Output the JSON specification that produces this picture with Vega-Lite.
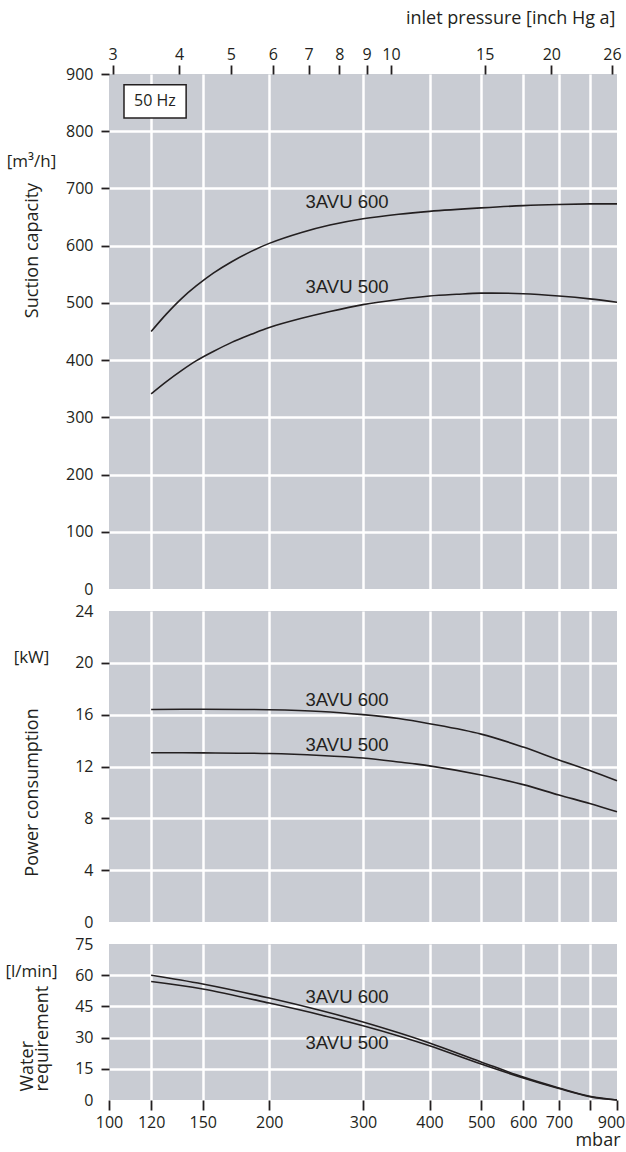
{
  "$schema": "https://vega.github.io/schema/vega-lite/v6.json",
  "background": "white",
  "padding": {"left": 4, "top": 9, "right": 5, "bottom": 5},
  "config": {
    "view": {"fill": "#c9ccd3", "stroke": null},
    "concat": {"spacing": 6},
    "axis": {
      "labelFont": "Open Sans", "labelFontSize": 16, "labelColor": "#231f20",
      "titleFont": "Open Sans", "titleFontSize": 18, "titleFontWeight": "normal", "titleColor": "#231f20",
      "tickColor": "#231f20", "tickWidth": 1.8, "domain": false,
      "gridColor": "white", "gridWidth": 2.5, "gridOpacity": 1
    }
  },
  "datasets": {
    "capacity": [
      {"model": "3AVU 600", "mbar": 120, "value": 450}, {"model": "3AVU 600", "mbar": 128, "value": 480},
      {"model": "3AVU 600", "mbar": 137, "value": 508}, {"model": "3AVU 600", "mbar": 146, "value": 530},
      {"model": "3AVU 600", "mbar": 157, "value": 552}, {"model": "3AVU 600", "mbar": 170, "value": 572},
      {"model": "3AVU 600", "mbar": 185, "value": 590}, {"model": "3AVU 600", "mbar": 200, "value": 604},
      {"model": "3AVU 600", "mbar": 230, "value": 623}, {"model": "3AVU 600", "mbar": 260, "value": 636},
      {"model": "3AVU 600", "mbar": 300, "value": 647}, {"model": "3AVU 600", "mbar": 350, "value": 655},
      {"model": "3AVU 600", "mbar": 400, "value": 660}, {"model": "3AVU 600", "mbar": 500, "value": 666},
      {"model": "3AVU 600", "mbar": 600, "value": 670}, {"model": "3AVU 600", "mbar": 700, "value": 672},
      {"model": "3AVU 600", "mbar": 800, "value": 673}, {"model": "3AVU 600", "mbar": 900, "value": 673},
      {"model": "3AVU 500", "mbar": 120, "value": 341}, {"model": "3AVU 500", "mbar": 128, "value": 362},
      {"model": "3AVU 500", "mbar": 137, "value": 382}, {"model": "3AVU 500", "mbar": 146, "value": 399},
      {"model": "3AVU 500", "mbar": 157, "value": 415}, {"model": "3AVU 500", "mbar": 170, "value": 431},
      {"model": "3AVU 500", "mbar": 185, "value": 445}, {"model": "3AVU 500", "mbar": 200, "value": 457},
      {"model": "3AVU 500", "mbar": 230, "value": 473}, {"model": "3AVU 500", "mbar": 260, "value": 485},
      {"model": "3AVU 500", "mbar": 300, "value": 497}, {"model": "3AVU 500", "mbar": 350, "value": 506},
      {"model": "3AVU 500", "mbar": 400, "value": 512}, {"model": "3AVU 500", "mbar": 450, "value": 515},
      {"model": "3AVU 500", "mbar": 500, "value": 517}, {"model": "3AVU 500", "mbar": 600, "value": 516},
      {"model": "3AVU 500", "mbar": 700, "value": 512}, {"model": "3AVU 500", "mbar": 800, "value": 507},
      {"model": "3AVU 500", "mbar": 900, "value": 501}
    ],
    "power": [
      {"model": "3AVU 600", "mbar": 120, "value": 16.4}, {"model": "3AVU 600", "mbar": 150, "value": 16.42},
      {"model": "3AVU 600", "mbar": 200, "value": 16.38}, {"model": "3AVU 600", "mbar": 250, "value": 16.25},
      {"model": "3AVU 600", "mbar": 300, "value": 16.0}, {"model": "3AVU 600", "mbar": 350, "value": 15.7},
      {"model": "3AVU 600", "mbar": 400, "value": 15.3}, {"model": "3AVU 600", "mbar": 500, "value": 14.5},
      {"model": "3AVU 600", "mbar": 600, "value": 13.5}, {"model": "3AVU 600", "mbar": 700, "value": 12.5},
      {"model": "3AVU 600", "mbar": 800, "value": 11.7}, {"model": "3AVU 600", "mbar": 900, "value": 10.9},
      {"model": "3AVU 500", "mbar": 120, "value": 13.06}, {"model": "3AVU 500", "mbar": 150, "value": 13.05},
      {"model": "3AVU 500", "mbar": 200, "value": 13.0}, {"model": "3AVU 500", "mbar": 250, "value": 12.85},
      {"model": "3AVU 500", "mbar": 300, "value": 12.65}, {"model": "3AVU 500", "mbar": 350, "value": 12.35},
      {"model": "3AVU 500", "mbar": 400, "value": 12.05}, {"model": "3AVU 500", "mbar": 500, "value": 11.35},
      {"model": "3AVU 500", "mbar": 600, "value": 10.6}, {"model": "3AVU 500", "mbar": 700, "value": 9.8},
      {"model": "3AVU 500", "mbar": 800, "value": 9.15}, {"model": "3AVU 500", "mbar": 900, "value": 8.5}
    ],
    "water": [
      {"model": "3AVU 600", "mbar": 120, "value": 60}, {"model": "3AVU 600", "mbar": 150, "value": 55.8},
      {"model": "3AVU 600", "mbar": 200, "value": 49}, {"model": "3AVU 600", "mbar": 250, "value": 43},
      {"model": "3AVU 600", "mbar": 300, "value": 37.5}, {"model": "3AVU 600", "mbar": 350, "value": 32.3},
      {"model": "3AVU 600", "mbar": 400, "value": 27.4}, {"model": "3AVU 600", "mbar": 500, "value": 18.3},
      {"model": "3AVU 600", "mbar": 600, "value": 11}, {"model": "3AVU 600", "mbar": 700, "value": 5.8},
      {"model": "3AVU 600", "mbar": 800, "value": 1.8}, {"model": "3AVU 600", "mbar": 900, "value": 0},
      {"model": "3AVU 500", "mbar": 120, "value": 57}, {"model": "3AVU 500", "mbar": 150, "value": 53.4},
      {"model": "3AVU 500", "mbar": 200, "value": 46.6}, {"model": "3AVU 500", "mbar": 250, "value": 40.9},
      {"model": "3AVU 500", "mbar": 300, "value": 35.7}, {"model": "3AVU 500", "mbar": 350, "value": 30.8},
      {"model": "3AVU 500", "mbar": 400, "value": 26.1}, {"model": "3AVU 500", "mbar": 500, "value": 17.3},
      {"model": "3AVU 500", "mbar": 600, "value": 10.6}, {"model": "3AVU 500", "mbar": 700, "value": 5.5},
      {"model": "3AVU 500", "mbar": 800, "value": 1.6}, {"model": "3AVU 500", "mbar": 900, "value": 0}
    ],
    "labels": [
      {"panel": "capacity", "label": "3AVU 600", "mbar": 234, "value": 676},
      {"panel": "capacity", "label": "3AVU 500", "mbar": 234, "value": 528},
      {"panel": "power", "label": "3AVU 600", "mbar": 234, "value": 17.1},
      {"panel": "power", "label": "3AVU 500", "mbar": 234, "value": 13.66},
      {"panel": "water", "label": "3AVU 600", "mbar": 234, "value": 49.5},
      {"panel": "water", "label": "3AVU 500", "mbar": 234, "value": 27.6}
    ],
    "freq": [
      {"label": "50 Hz", "x1": 106.7, "x2": 139.6, "xm": 122, "y1": 823, "y2": 881, "ym": 852}
    ]
  },
  "vconcat": [
    {
      "width": 508, "height": 515,
      "resolve": {"axis": {"x": "independent", "y": "independent"}},
      "layer": [
        {
          "data": {"name": "capacity"},
          "mark": {"type": "line", "interpolate": "catmull-rom", "color": "#231f20", "strokeWidth": 1.6},
          "encoding": {
            "x": {"field": "mbar", "type": "quantitative",
              "scale": {"type": "log", "domain": [100, 900], "nice": false},
              "axis": {"orient": "top", "grid": false, "labelFlush": false,
                "values": [101.59, 135.46, 169.32, 203.18, 237.05, 270.91, 304.78, 338.64, 507.96, 677.28, 880.46],
                "labelExpr": "format(round(datum.value/33.8639),'d')",
                "tickSize": 9, "labelPadding": 3,
                "title": "inlet pressure [inch Hg a]", "titleX": 506, "titleY": -56,
                "titleAlign": "right", "titleBaseline": "middle"}},
            "y": {"field": "value", "type": "quantitative",
              "scale": {"domain": [0, 900], "nice": false},
              "axis": {"values": [0, 100, 200, 300, 400, 500, 600, 700, 800, 900],
                "tickSize": 8, "labelPadding": 8,
                "tickOpacity": {"condition": {"test": "datum.value == 0", "value": 0}, "value": 1},
                "gridOpacity": {"condition": {"test": "datum.value == 0 || datum.value == 900", "value": 0}, "value": 1},
                "title": "Suction capacity", "titleAngle": -90, "titleX": -72, "titleY": 176,
                "titleAlign": "center", "titleBaseline": "alphabetic"}},
            "detail": {"field": "model"}
          }
        },
        {
          "data": {"name": "labels"},
          "transform": [{"filter": "datum.panel == 'capacity'"}],
          "mark": {"type": "text", "align": "left", "baseline": "middle", "font": "Liberation Sans", "fontSize": 18.5, "color": "#231f20"},
          "encoding": {
            "x": {"field": "mbar", "type": "quantitative",
              "scale": {"type": "log", "domain": [100, 900], "nice": false},
              "axis": {"orient": "bottom", "labels": false, "ticks": false, "title": null, "grid": true,
                "values": [100, 120, 150, 200, 300, 400, 500, 600, 700, 800, 900],
                "gridOpacity": {"condition": {"test": "datum.value == 100 || datum.value == 900", "value": 0}, "value": 1}}},
            "y": {"field": "value", "type": "quantitative",
              "scale": {"domain": [0, 900], "nice": false},
              "axis": {"orient": "left", "labels": false, "ticks": false, "grid": false,
                "title": "[m³/h]", "titleAngle": 0, "titleX": -78, "titleY": 87, "titleFontSize": 17,
                "titleAlign": "center", "titleBaseline": "middle"}},
            "text": {"field": "label"}
          }
        },
        {
          "data": {"name": "freq"},
          "mark": {"type": "rect", "fill": "white", "stroke": "#231f20", "strokeWidth": 1.5},
          "encoding": {
            "x": {"field": "x1", "type": "quantitative", "scale": {"type": "log", "domain": [100, 900], "nice": false}, "axis": null},
            "x2": {"field": "x2"},
            "y": {"field": "y1", "type": "quantitative", "scale": {"domain": [0, 900], "nice": false}, "axis": null},
            "y2": {"field": "y2"}
          }
        },
        {
          "data": {"name": "freq"},
          "mark": {"type": "text", "align": "center", "baseline": "middle", "font": "Open Sans", "fontSize": 16, "color": "#231f20"},
          "encoding": {
            "x": {"field": "xm", "type": "quantitative", "scale": {"type": "log", "domain": [100, 900], "nice": false}, "axis": null},
            "y": {"field": "ym", "type": "quantitative", "scale": {"domain": [0, 900], "nice": false}, "axis": null},
            "text": {"field": "label"}
          }
        }
      ]
    },
    {
      "width": 508, "height": 311,
      "resolve": {"axis": {"x": "independent", "y": "independent"}},
      "layer": [
        {
          "data": {"name": "power"},
          "mark": {"type": "line", "interpolate": "catmull-rom", "color": "#231f20", "strokeWidth": 1.6},
          "encoding": {
            "x": {"field": "mbar", "type": "quantitative",
              "scale": {"type": "log", "domain": [100, 900], "nice": false},
              "axis": {"orient": "bottom", "labels": false, "ticks": false, "title": null, "grid": true,
                "values": [100, 120, 150, 200, 300, 400, 500, 600, 700, 800, 900],
                "gridOpacity": {"condition": {"test": "datum.value == 100 || datum.value == 900", "value": 0}, "value": 1}}},
            "y": {"field": "value", "type": "quantitative",
              "scale": {"domain": [0, 24], "nice": false},
              "axis": {"values": [0, 4, 8, 12, 16, 20, 24],
                "tickSize": 8, "labelPadding": 8,
                "tickOpacity": {"condition": {"test": "datum.value == 0 || datum.value == 24", "value": 0}, "value": 1},
                "gridOpacity": {"condition": {"test": "datum.value == 0 || datum.value == 24", "value": 0}, "value": 1},
                "title": "Power consumption", "titleAngle": -90, "titleX": -72, "titleY": 181,
                "titleAlign": "center", "titleBaseline": "alphabetic"}},
            "detail": {"field": "model"}
          }
        },
        {
          "data": {"name": "labels"},
          "transform": [{"filter": "datum.panel == 'power'"}],
          "mark": {"type": "text", "align": "left", "baseline": "middle", "font": "Liberation Sans", "fontSize": 18.5, "color": "#231f20"},
          "encoding": {
            "x": {"field": "mbar", "type": "quantitative",
              "scale": {"type": "log", "domain": [100, 900], "nice": false}, "axis": null},
            "y": {"field": "value", "type": "quantitative",
              "scale": {"domain": [0, 24], "nice": false},
              "axis": {"orient": "left", "labels": false, "ticks": false, "grid": false,
                "title": "[kW]", "titleAngle": 0, "titleX": -78, "titleY": 46, "titleFontSize": 17,
                "titleAlign": "center", "titleBaseline": "middle"}},
            "text": {"field": "label"}
          }
        }
      ]
    },
    {
      "width": 508, "height": 156,
      "resolve": {"axis": {"x": "independent", "y": "independent"}},
      "layer": [
        {
          "data": {"name": "water"},
          "mark": {"type": "line", "interpolate": "catmull-rom", "color": "#231f20", "strokeWidth": 1.6},
          "encoding": {
            "x": {"field": "mbar", "type": "quantitative",
              "scale": {"type": "log", "domain": [100, 900], "nice": false},
              "axis": {"orient": "bottom", "grid": true, "tickSize": 10, "labelPadding": 4, "labelFlush": false,
                "values": [100, 120, 150, 200, 300, 400, 500, 600, 700, 800, 900],
                "labelExpr": "datum.value == 800 ? '' : format(datum.value, 'd')",
                "labelOffset": {"condition": {"test": "datum.value == 900", "value": -6}, "value": 0},
                "gridOpacity": {"condition": {"test": "datum.value == 100 || datum.value == 900", "value": 0}, "value": 1},
                "title": "mbar", "titleX": 511, "titleY": 40, "titleAlign": "right", "titleBaseline": "middle"}},
            "y": {"field": "value", "type": "quantitative",
              "scale": {"domain": [0, 75], "nice": false},
              "axis": {"values": [0, 15, 30, 45, 60, 75],
                "tickSize": 8, "labelPadding": 8,
                "tickOpacity": {"condition": {"test": "datum.value == 0 || datum.value == 75", "value": 0}, "value": 1},
                "gridOpacity": {"condition": {"test": "datum.value == 0 || datum.value == 75", "value": 0}, "value": 1},
                "title": ["Water", "requirement"], "titleAngle": -90, "titleX": -77, "titleY": 147,
                "titleLineHeight": 15, "titleAlign": "left", "titleBaseline": "alphabetic"}},
            "detail": {"field": "model"}
          }
        },
        {
          "data": {"name": "labels"},
          "transform": [{"filter": "datum.panel == 'water'"}],
          "mark": {"type": "text", "align": "left", "baseline": "middle", "font": "Liberation Sans", "fontSize": 18.5, "color": "#231f20"},
          "encoding": {
            "x": {"field": "mbar", "type": "quantitative",
              "scale": {"type": "log", "domain": [100, 900], "nice": false}, "axis": null},
            "y": {"field": "value", "type": "quantitative",
              "scale": {"domain": [0, 75], "nice": false},
              "axis": {"orient": "left", "labels": false, "ticks": false, "grid": false,
                "title": "[l/min]", "titleAngle": 0, "titleX": -78, "titleY": 27, "titleFontSize": 17,
                "titleAlign": "center", "titleBaseline": "middle"}},
            "text": {"field": "label"}
          }
        }
      ]
    }
  ]
}
